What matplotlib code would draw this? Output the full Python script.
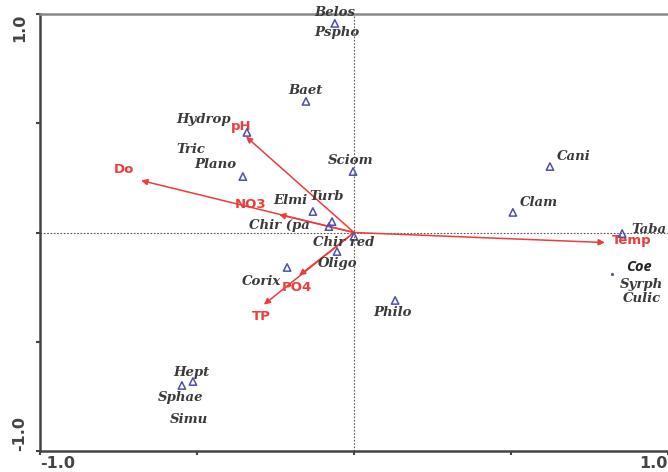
import matplotlib
matplotlib.use('Agg')
import matplotlib.pyplot as plt

# species scores (triangles)
sp_x = [-0.061, -0.153, -0.341, -0.354, -0.003, 0.624, 0.506, 0.854, -0.131,
        -0.070, -0.080, 0.000, -0.054, -0.213, 0.131, -0.548, -0.513]
sp_y = [0.957, 0.600, 0.458, 0.256, 0.279, 0.302, 0.092, -0.005, 0.096,
        0.050, 0.027, -0.018, -0.087, -0.160, -0.311, -0.700, -0.682]

# Coe shown as a small dot
coe_x = [0.822]
coe_y = [-0.188]

# species labels
sp_names = ['Belos', 'Pspho', 'Baet', 'Hydrop', 'Tric', 'Plano', 'Sciom', 'Cani',
            'Clam', 'Taba', 'Elmi', 'Turb', 'Chir (pa', 'Chir red', 'Oligo',
            'Corix', 'Philo', 'Hept', 'Sphae', 'Simu', 'Syrph', 'Culic']
lab_x = [-0.061, -0.054, -0.153, -0.478, -0.519, -0.443, -0.010, 0.701,
         0.589, 0.940, -0.204, -0.086, -0.236, -0.032, -0.051,
         -0.296, 0.124, -0.519, -0.551, -0.525, 0.917, 0.917]
lab_y = [1.005, 0.915, 0.650, 0.517, 0.380, 0.311, 0.330, 0.348,
         0.137, 0.014, 0.146, 0.165, 0.032, -0.046, -0.142,
         -0.224, -0.366, -0.641, -0.755, -0.856, -0.238, -0.302]

# environmental variables (arrow tips and labels)
env_names = ['pH', 'Do', 'NO3', 'Temp', 'PO4', 'TP']
env_x = [-0.344, -0.678, -0.239, 0.799, -0.175, -0.287]
env_y = [0.439, 0.238, 0.082, -0.046, -0.197, -0.330]
env_lab_x = [-0.360, -0.732, -0.328, 0.885, -0.182, -0.296]
env_lab_y = [0.485, 0.288, 0.128, -0.037, -0.252, -0.384]

red = '#ee3b3b'
blue = '#4f4fae'
grey = '#3a3a3a'

fig = plt.figure(figsize=(6.68, 4.72), dpi=100)
ax = fig.add_axes([40 / 668, 21 / 472, 628 / 668, 437 / 472])
ax.set_xlim(-1, 1)
ax.set_ylim(-1, 1)

ax.axhline(0, color='#555555', lw=0.8, ls=(0, (1.5, 1.5)), zorder=1)
ax.axvline(0, color='#555555', lw=0.8, ls=(0, (1.5, 1.5)), zorder=1)

for x, y in zip(env_x, env_y):
    ax.annotate('', xy=(x, y), xytext=(0, 0),
                arrowprops=dict(arrowstyle='-|>', color=red, lw=1.1,
                                mutation_scale=9, shrinkA=0, shrinkB=0),
                zorder=3)
for name, x, y in zip(env_names, env_lab_x, env_lab_y):
    ax.text(x, y, name, color=red, fontsize=9.5, fontweight='bold',
            ha='center', va='center', zorder=4)

ax.scatter(sp_x, sp_y, marker='^', s=28, facecolors='none',
           edgecolors=blue, linewidths=1.1, zorder=5)
ax.scatter(coe_x, coe_y, marker='.', s=6, color=blue, zorder=5)

for name, x, y in zip(sp_names, lab_x, lab_y):
    ax.text(x, y, name, color=grey, fontsize=9.5, family='DejaVu Serif',
            style='italic', fontweight='bold', ha='center', va='center', zorder=6)
ax.text(0.908, -0.156, 'Coe', color='#222222', fontsize=10.5, family='Open Sans',
        style='italic', fontweight='bold', ha='center', va='center', zorder=6)

# axes styling
for side in ['left', 'bottom']:
    ax.spines[side].set_color('#444444')
    ax.spines[side].set_linewidth(1.8)
ax.spines['top'].set_color('#888888')
ax.spines['top'].set_linewidth(1.8)
ax.spines['right'].set_visible(False)

ax.set_xticks([-1, -0.5, 0, 0.5, 1])
ax.set_xticklabels(['-1.0', '', '', '', '1.0'])
ax.set_yticks([-1, -0.5, 0, 0.5, 1])
ax.set_yticklabels(['-1.0', '', '', '', '1.0'], rotation=90)
ax.tick_params(axis='both', direction='out', length=3, width=1.5,
               color='#444444', labelsize=11.5, labelcolor='#444444')
ax.tick_params(axis='x', pad=0.5)
ax.tick_params(axis='y', pad=6)
for lbl in ax.get_xticklabels() + ax.get_yticklabels():
    lbl.set_fontweight('bold')
xl = ax.get_xticklabels()
xl[0].set_ha('left')
xl[-1].set_ha('right')
yl = ax.get_yticklabels()
yl[0].set_va('bottom')
yl[-1].set_va('top')

fig.savefig('out.png', dpi=100)
